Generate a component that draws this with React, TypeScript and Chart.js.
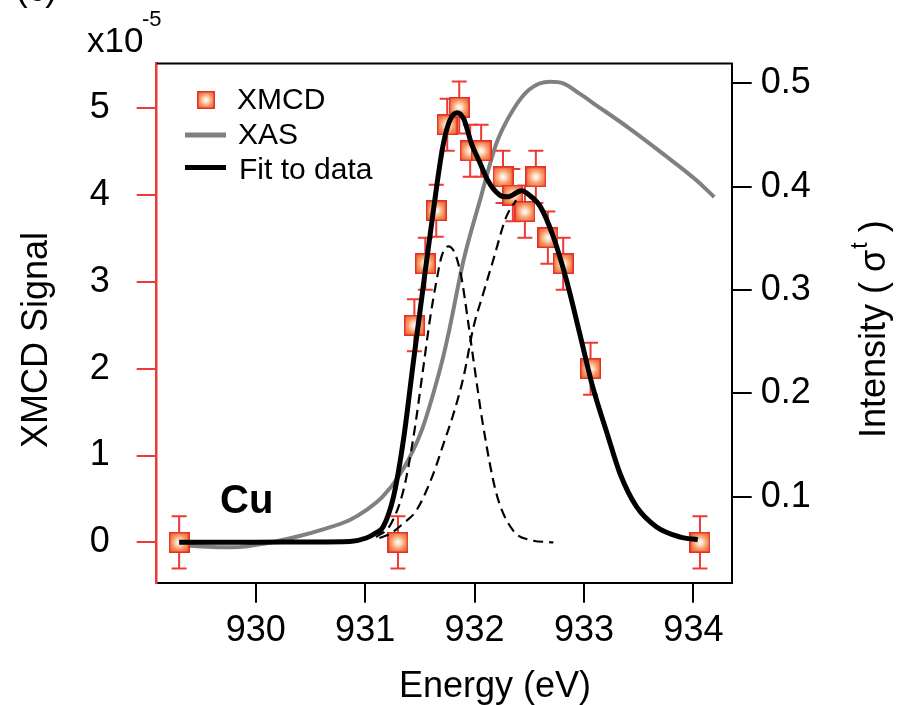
import React, { useEffect, useRef } from "react";
import { Chart, registerables } from "chart.js";

Chart.register(...registerables);

const FONT = '"Liberation Sans", Arial, Helvetica, sans-serif';

// ---- tick values ----
const energyTicks = [930, 931, 932, 933, 934];
const signalTicks = [0, 1, 2, 3, 4, 5];
const intensityTicks = [0.1, 0.2, 0.3, 0.4, 0.5];

// ---- XMCD data (x10^-5) ----
const xmcdEnergy = [929.3, 931.3, 931.45, 931.55, 931.65, 931.75, 931.86, 931.96, 932.06, 932.26, 932.35, 932.46, 932.56, 932.67, 932.81, 933.06, 934.06];
const xmcdSignal = [0, 0, 2.5, 3.21, 3.82, 4.81, 5.01, 4.51, 4.51, 4.21, 4.0, 3.81, 4.21, 3.51, 3.21, 2.0, 0];
const xmcdError = [0.3, 0.3, 0.3, 0.3, 0.3, 0.3, 0.3, 0.3, 0.3, 0.3, 0.3, 0.3, 0.3, 0.3, 0.3, 0.3, 0.3];

// ---- XAS (right axis) ----
const xasEnergy = [929.3, 929.79, 930.1, 930.4, 930.6, 930.86, 931.01, 931.16, 931.32, 931.47, 931.53, 931.59, 931.65, 931.71, 931.77, 931.9, 932.05, 932.2, 932.35, 932.5, 932.69, 932.81, 932.96, 933.11, 933.42, 933.72, 934.03, 934.19];
const xasIntensity = [0.053, 0.051, 0.055, 0.062, 0.068, 0.0775, 0.087, 0.1, 0.122, 0.152, 0.168, 0.188, 0.21, 0.234, 0.262, 0.329, 0.387, 0.442, 0.474, 0.494, 0.5015, 0.5, 0.49, 0.479, 0.456, 0.432, 0.406, 0.39];

// ---- Fit (left axis) ----
const fitEnergy = [929.3, 930.0, 930.5, 930.86, 931.01, 931.1, 931.165, 931.26, 931.35, 931.44, 931.53, 931.62, 931.71, 931.77, 931.84, 931.9, 931.97, 932.05, 932.12, 932.23, 932.3, 932.43, 932.52, 932.6, 932.72, 932.84, 932.96, 933.08, 933.21, 933.33, 933.48, 933.66, 933.88, 934.04];
const fitSignal = [0, 0, 0.005, 0.01, 0.05, 0.11, 0.18, 0.53, 1.18, 2.07, 2.94, 3.79, 4.56, 4.85, 4.95, 4.88, 4.6, 4.37, 4.17, 4.0, 3.98, 4.05, 3.98, 3.87, 3.52, 3.02, 2.41, 1.79, 1.26, 0.79, 0.41, 0.18, 0.06, 0.03];

// ---- fitted components (dashed) ----
const peak1Energy = [931.1, 931.23, 931.35, 931.44, 931.53, 931.59, 931.65, 931.7, 931.76, 931.82, 931.88, 931.94, 931.99, 932.08, 932.2, 932.35, 932.5, 932.72];
const peak1Signal = [0.06, 0.2, 0.6, 1.2, 2.0, 2.55, 3.0, 3.3, 3.41, 3.33, 3.05, 2.55, 2.1, 1.33, 0.56, 0.14, 0.03, 0.0];
const peak2Energy = [931.13, 931.23, 931.35, 931.47, 931.62, 931.72, 931.8, 931.9, 931.99, 932.08, 932.17, 932.29, 932.38];
const peak2Signal = [0.05, 0.1, 0.22, 0.37, 0.78, 1.15, 1.45, 1.91, 2.48, 2.87, 3.25, 3.75, 3.94];

// ---- axis ranges ----
const energyRange = [929.095, 934.35];
const signalRange = [-0.465, 5.516];
const intensityRange = [0.0168, 0.5192];

const RED = "#ee3a36";
const GRAY = "#808080";

function pts(xs: number[], ys: number[]) {
  return xs.map((x, i) => ({ x, y: ys[i] }));
}

function makeMarker(size: number) {
  const c = document.createElement("canvas");
  c.width = size;
  c.height = size;
  const g = c.getContext("2d") as CanvasRenderingContext2D;
  const grad = g.createRadialGradient(size / 2, size / 2, 0, size / 2, size / 2, size * 0.72);
  grad.addColorStop(0, "#ffffff");
  grad.addColorStop(0.18, "#fde0cc");
  grad.addColorStop(0.5, "#f7915a");
  grad.addColorStop(1, "#ec4a22");
  g.fillStyle = grad;
  g.fillRect(0, 0, size, size);
  g.strokeStyle = "#e0302a";
  g.lineWidth = 1.5;
  g.strokeRect(0.75, 0.75, size - 1.5, size - 1.5);
  return c;
}

const errorBarPlugin = {
  id: "errorBars",
  beforeDatasetDraw(chart: any, args: any) {
    if (args.index !== 0) return;
    const ctx = chart.ctx;
    const xs = chart.scales.x;
    const ys = chart.scales.y;
    ctx.save();
    ctx.strokeStyle = RED;
    ctx.lineWidth = 2;
    xmcdEnergy.forEach((e, i) => {
      const px = xs.getPixelForValue(e);
      const top = ys.getPixelForValue(xmcdSignal[i] + xmcdError[i]);
      const bot = ys.getPixelForValue(xmcdSignal[i] - xmcdError[i]);
      ctx.beginPath();
      ctx.moveTo(px, top);
      ctx.lineTo(px, bot);
      ctx.moveTo(px - 7.5, top);
      ctx.lineTo(px + 7.5, top);
      ctx.moveTo(px - 7.5, bot);
      ctx.lineTo(px + 7.5, bot);
      ctx.stroke();
    });
    ctx.restore();
  },
};

const decorPlugin = {
  id: "decor",
  afterDraw(chart: any) {
    const ctx = chart.ctx;
    const a = chart.chartArea;
    const ds = chart.data.datasets;
    ctx.save();
    // top frame
    ctx.strokeStyle = "#000";
    ctx.lineWidth = 2;
    ctx.beginPath();
    ctx.moveTo(a.left, a.top);
    ctx.lineTo(a.right + 1, a.top);
    ctx.stroke();

    ctx.fillStyle = "#000";
    ctx.textBaseline = "alphabetic";
    ctx.textAlign = "left";

    // legend
    const legendMarker = makeMarker(18);
    ctx.drawImage(legendMarker, 197, 91, 18, 18);
    ctx.font = `30px ${FONT}`;
    ctx.fillText(ds[0].label, 237, 108.5);
    ctx.lineWidth = 5;
    ctx.strokeStyle = GRAY;
    ctx.beginPath();
    ctx.moveTo(185, 135);
    ctx.lineTo(226, 135);
    ctx.stroke();
    ctx.fillText(ds[1].label, 238, 143.5);
    ctx.strokeStyle = "#000";
    ctx.beginPath();
    ctx.moveTo(185, 167.5);
    ctx.lineTo(226, 167.5);
    ctx.stroke();
    ctx.fillText(ds[2].label, 239, 178.5);

    // element label
    ctx.font = `bold 40px ${FONT}`;
    ctx.fillText("Cu", 220, 513);

    // multiplier
    ctx.font = `35px ${FONT}`;
    ctx.fillText("x10", 87, 52);
    ctx.font = `22px ${FONT}`;
    ctx.fillText("-5", 142, 26);

    // panel label (cropped at top)
    ctx.font = `35px ${FONT}`;
    ctx.fillText("(c)", 16, 1);

    // x title
    ctx.font = `36px ${FONT}`;
    ctx.fillText("Energy (eV)", 399, 697);

    // left title
    ctx.save();
    ctx.translate(46.5, 448);
    ctx.rotate(-Math.PI / 2);
    ctx.font = `36px ${FONT}`;
    ctx.fillText("XMCD Signal", 0, 0);
    ctx.restore();

    // right title
    ctx.save();
    ctx.translate(885, 438);
    ctx.rotate(-Math.PI / 2);
    ctx.font = `36px ${FONT}`;
    const main = "Intensity ( \u03c3";
    ctx.fillText(main, 0, 0);
    let w = ctx.measureText(main).width;
    ctx.font = `23px ${FONT}`;
    ctx.fillText("t", w + 1, -18);
    w += ctx.measureText("t").width + 1;
    ctx.font = `36px ${FONT}`;
    ctx.fillText(" )", w, 0);
    ctx.restore();

    ctx.restore();
  },
};

export default function App() {
  const ref = useRef<HTMLCanvasElement | null>(null);

  useEffect(() => {
    const canvas = ref.current;
    if (!canvas) return;
    const marker = makeMarker(21);

    const chart = new Chart(canvas, {
      type: "line",
      data: {
        datasets: [
          {
            label: "XMCD",
            data: pts(xmcdEnergy, xmcdSignal),
            showLine: false,
            pointStyle: marker as any,
            pointRadius: 10,
            yAxisID: "y",
            order: 2,
          },
          {
            label: "XAS",
            data: pts(xasEnergy, xasIntensity),
            borderColor: GRAY,
            borderWidth: 4,
            pointRadius: 0,
            cubicInterpolationMode: "monotone",
            yAxisID: "y2",
            order: 3,
          },
          {
            label: "Fit to data",
            data: pts(fitEnergy, fitSignal),
            borderColor: "#000",
            borderWidth: 5,
            pointRadius: 0,
            cubicInterpolationMode: "monotone",
            yAxisID: "y",
            order: 0,
          },
          {
            label: "Peak 1",
            data: pts(peak1Energy, peak1Signal),
            borderColor: "#000",
            borderWidth: 2.2,
            borderDash: [10, 6],
            pointRadius: 0,
            cubicInterpolationMode: "monotone",
            yAxisID: "y",
            order: 1,
          },
          {
            label: "Peak 2",
            data: pts(peak2Energy, peak2Signal),
            borderColor: "#000",
            borderWidth: 2.2,
            borderDash: [10, 6],
            pointRadius: 0,
            cubicInterpolationMode: "monotone",
            yAxisID: "y",
            order: 1,
          },
        ],
      },
      options: {
        responsive: false,
        animation: false,
        devicePixelRatio: 1,
        layout: { padding: { top: 63.5, left: 0, right: 0, bottom: 0 } },
        plugins: { legend: { display: false }, tooltip: { enabled: false } },
        scales: {
          x: {
            type: "linear",
            position: "bottom",
            min: energyRange[0],
            max: energyRange[1],
            afterBuildTicks: (s: any) => {
              s.ticks = energyTicks.map((v) => ({ value: v }));
            },
            afterFit: (s: any) => {
              s.height = 705 - 582.7;
            },
            ticks: {
              font: { family: FONT, size: 36 },
              color: "#000",
              padding: 7,
              maxRotation: 0,
              autoSkip: false,
            },
            grid: { drawOnChartArea: false, drawTicks: true, tickLength: 20, color: "#000", lineWidth: 2 },
            border: { display: true, color: "#000", width: 2 },
          },
          y: {
            type: "linear",
            position: "left",
            min: signalRange[0],
            max: signalRange[1],
            afterBuildTicks: (s: any) => {
              s.ticks = signalTicks.map((v) => ({ value: v }));
            },
            afterFit: (s: any) => {
              s.width = 156.7;
            },
            ticks: {
              font: { family: FONT, size: 36 },
              color: "#000",
              padding: 27,
            },
            grid: { drawOnChartArea: false, drawTicks: true, tickLength: 20, color: RED, lineWidth: 2 },
            border: { display: true, color: RED, width: 2.5 },
          },
          y2: {
            type: "linear",
            position: "right",
            min: intensityRange[0],
            max: intensityRange[1],
            afterBuildTicks: (s: any) => {
              s.ticks = intensityTicks.map((v) => ({ value: v }));
            },
            afterFit: (s: any) => {
              s.width = 904 - 731.7;
            },
            ticks: {
              font: { family: FONT, size: 36 },
              color: "#000",
              padding: 9,
              callback: (v: any) => Number(v).toFixed(1),
            },
            grid: { drawOnChartArea: false, drawTicks: true, tickLength: 20, color: "#000", lineWidth: 2 },
            border: { display: true, color: "#000", width: 2 },
          },
        },
      },
      plugins: [errorBarPlugin, decorPlugin],
    });

    return () => chart.destroy();
  }, []);

  return (
    <div style={{ position: "absolute", left: 0, top: 0, width: 904, height: 705, background: "#fff" }}>
      <canvas ref={ref} width={904} height={705} style={{ display: "block", width: 904, height: 705 }} />
    </div>
  );
}
